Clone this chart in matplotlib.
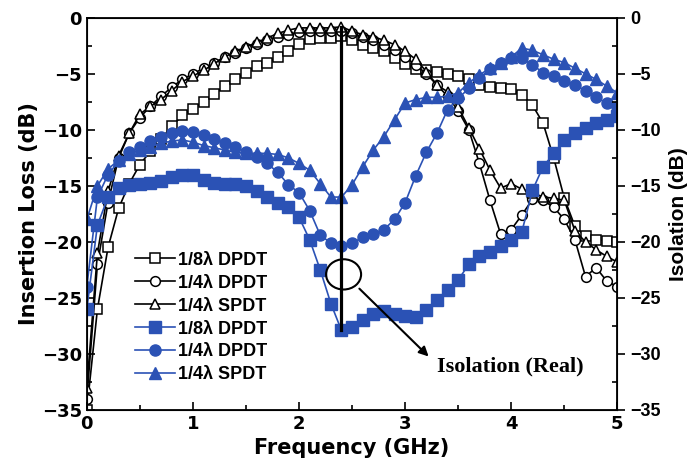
import numpy as np
import matplotlib
matplotlib.use("Agg")
import matplotlib.pyplot as plt
from matplotlib.patches import Ellipse

# --- data --------------------------------------------------------------------
FREQ = [0.0, 0.1, 0.2, 0.3, 0.4, 0.5, 0.6, 0.7, 0.8, 0.9,
        1.0, 1.1, 1.2, 1.3, 1.4, 1.5, 1.6, 1.7, 1.8, 1.9,
        2.0, 2.1, 2.2, 2.3, 2.4, 2.5, 2.6, 2.7, 2.8, 2.9,
        3.0, 3.1, 3.2, 3.3, 3.4, 3.5, 3.6, 3.7, 3.8, 3.9,
        4.0, 4.1, 4.2, 4.3, 4.4, 4.5, 4.6, 4.7, 4.8, 4.9, 5.0]

# insertion loss (black, open markers)
il_8_dpdt = [-35, -26, -20.5, -17, -14.8, -13.1, -11.9, -10.8, -9.7, -8.7,
             -8.1, -7.5, -6.8, -6.1, -5.5, -4.9, -4.3, -4.0, -3.5, -3.0,
             -2.3, -1.9, -1.8, -1.8, -1.6, -2.0, -2.4, -2.7, -3.0, -3.6,
             -4.1, -4.6, -4.7, -4.8, -5.0, -5.2, -5.5, -6.0, -6.2, -6.3,
             -6.4, -6.9, -7.8, -9.4, -12.5, -16.1, -18.6, -19.5, -19.8, -19.9, -20.0]
il_4_dpdt = [-34, -22, -16.5, -12.5, -10.3, -8.9, -7.9, -7.0, -6.2, -5.5,
             -5.0, -4.5, -4.0, -3.5, -3.1, -2.7, -2.3, -2.0, -1.7, -1.5,
             -1.3, -1.2, -1.2, -1.2, -1.2, -1.4, -1.7, -2.0, -2.4, -2.9,
             -3.5, -4.2, -5.0, -6.0, -7.0, -8.3, -10.0, -13.0, -16.3, -19.3,
             -18.9, -17.6, -16.2, -16.3, -16.9, -18.0, -19.8, -23.1, -22.3, -23.5, -24.0]
il_4_spdt = [-33, -21, -15.5, -12.3, -10.3, -8.6, -7.9, -7.3, -6.5, -5.7,
             -5.2, -4.7, -4.1, -3.5, -3.0, -2.6, -2.2, -1.8, -1.4, -1.1,
             -0.9, -0.9, -0.9, -0.9, -0.8, -1.2, -1.5, -1.7, -2.0, -2.4,
             -3.0, -3.7, -4.8, -6.0, -6.6, -8.0, -9.8, -11.7, -13.6, -15.2,
             -14.8, -15.3, -15.6, -16.0, -16.1, -16.3, -19.0, -20.0, -20.7, -21.3, -21.8]

# isolation (blue, filled markers)
iso_8_dpdt = [-26, -18.5, -16, -15.2, -14.9, -14.8, -14.7, -14.6, -14.2, -14.0,
              -14.0, -14.5, -14.7, -14.8, -14.8, -15.0, -15.5, -16.0, -16.5, -16.9,
              -17.8, -19.8, -22.5, -25.5, -27.9, -27.6, -27.0, -26.4, -26.2, -26.4,
              -26.6, -26.7, -26.1, -25.2, -24.3, -23.4, -22.0, -21.3, -20.9, -20.4,
              -19.8, -19.1, -15.4, -13.3, -12.1, -10.9, -10.3, -9.8, -9.4, -9.1, -8.8]
iso_4_dpdt = [-24, -16, -14, -12.8, -12.0, -11.5, -11.0, -10.6, -10.3, -10.1,
              -10.2, -10.5, -10.8, -11.2, -11.5, -12.0, -12.4, -13.0, -13.8, -14.9,
              -15.6, -17.2, -19.4, -20.1, -20.4, -20.1, -19.6, -19.3, -18.9, -18.0,
              -16.5, -14.1, -12.0, -10.3, -8.2, -7.2, -6.3, -5.4, -4.6, -4.0,
              -3.6, -3.6, -4.2, -4.9, -5.2, -5.6, -6.0, -6.5, -7.1, -7.6, -8.0]
iso_4_spdt = [-18, -15, -13.5, -12.7, -12.2, -11.8, -11.5, -11.2, -11.0, -10.9,
              -11.1, -11.4, -11.6, -11.8, -12.0, -12.1, -12.1, -12.1, -12.2, -12.5,
              -13.0, -13.6, -14.8, -16.0, -16.0, -14.9, -13.3, -11.8, -10.6, -9.1,
              -7.6, -7.3, -7.1, -7.1, -7.0, -6.7, -5.8, -5.1, -4.5, -4.0,
              -3.5, -2.7, -2.9, -3.3, -3.7, -4.0, -4.5, -5.0, -5.5, -6.1, -6.7]

LABELS = ["1/8\u03bb DPDT", "1/4\u03bb DPDT", "1/4\u03bb SPDT"]
MARK_F, MARK_TOP, MARK_BOT = 2.4, -0.8, -27.9      # vertical marker line
CIRCLE_XY = (2.42, -22.9)
ARROW_FROM, ARROW_TO = (2.55, -24.0), (3.24, -30.4)
NOTE = "Isolation (Real)"

BLUE = "#2b52b5"

fig = plt.figure(figsize=(6.89, 4.68), dpi=100)
ax = fig.add_axes([0.126, 0.124, 0.770, 0.838])

sans = ["Liberation Sans", "DejaVu Sans"]
plt.rcParams["font.family"] = sans
plt.rcParams["font.weight"] = "bold"

blk = dict(color="k", lw=1.2, mfc="white", mec="k", mew=1.1, ms=7)
ax.plot(FREQ, il_8_dpdt, marker="s", label=LABELS[0], **blk)
ax.plot(FREQ, il_4_dpdt, marker="o", label=LABELS[1], **blk)
ax.plot(FREQ, il_4_spdt, marker="^", label=LABELS[2], **blk)

blu = dict(color=BLUE, lw=1.2, mfc=BLUE, mec=BLUE, ms=8)
ax.plot(FREQ, iso_8_dpdt, marker="s", label=LABELS[0], **blu)
ax.plot(FREQ, iso_4_dpdt, marker="o", label=LABELS[1], **blu)
ax.plot(FREQ, iso_4_spdt, marker="^", label=LABELS[2], **blu)

# annotation: marker line, circle and arrow to the note
ax.plot([MARK_F, MARK_F], [MARK_TOP, MARK_BOT], color="k", lw=2.3, zorder=5)
ax.add_patch(Ellipse(CIRCLE_XY, 0.33, 2.7, fill=False, ec="k", lw=1.5, zorder=6))
ax.annotate("", xy=ARROW_TO, xytext=ARROW_FROM,
            arrowprops=dict(arrowstyle="-|>", color="k", lw=1.5, mutation_scale=14))
ax.text(3.3, -31.1, NOTE, fontsize=16, fontweight="bold",
        family=["Liberation Serif", "DejaVu Serif"], va="center", ha="left")

ax.set_xlim(0, 5)
ax.set_ylim(-35, 0)
ax.set_xticks([0, 1, 2, 3, 4, 5])
ax.set_xticks([0.5, 1.5, 2.5, 3.5, 4.5], minor=True)
ax.set_yticks(range(-35, 1, 5))
ax.set_yticks(np.arange(-32.5, 0, 5), minor=True)
ax.tick_params(which="both", direction="in", labelsize=13, width=1.2)
ax.tick_params(which="major", length=6)
ax.tick_params(which="minor", length=3.5)
for s in ax.spines.values():
    s.set_linewidth(1.3)
for t in ax.get_xticklabels() + ax.get_yticklabels():
    t.set_fontweight("bold")

ax.set_xlabel("Frequency (GHz)", fontsize=15, fontweight="bold", labelpad=4)
ax.set_ylabel("Insertion Loss (dB)", fontsize=15, fontweight="bold", labelpad=2)

ax2 = ax.twinx()
ax2.set_ylim(-35, 0)
ax2.set_yticks(range(-35, 1, 5))
ax2.set_yticks(np.arange(-32.5, 0, 5), minor=True)
ax2.tick_params(which="major", direction="out", length=6, width=1.2, labelsize=13)
ax2.tick_params(which="minor", direction="in", length=3.5, width=1.2)
for t in ax2.get_yticklabels():
    t.set_fontweight("bold")
ax2.set_ylabel("Isolation (dB)", fontsize=15, fontweight="bold", labelpad=6)

leg = ax.legend(loc="lower left", bbox_to_anchor=(0.07, 0.04), frameon=False,
                fontsize=13, handlelength=2.2, handletextpad=0.2, labelspacing=0.33,
                borderpad=0.1)
for t in leg.get_texts():
    t.set_fontweight("bold")

fig.savefig("out.png", dpi=100)
